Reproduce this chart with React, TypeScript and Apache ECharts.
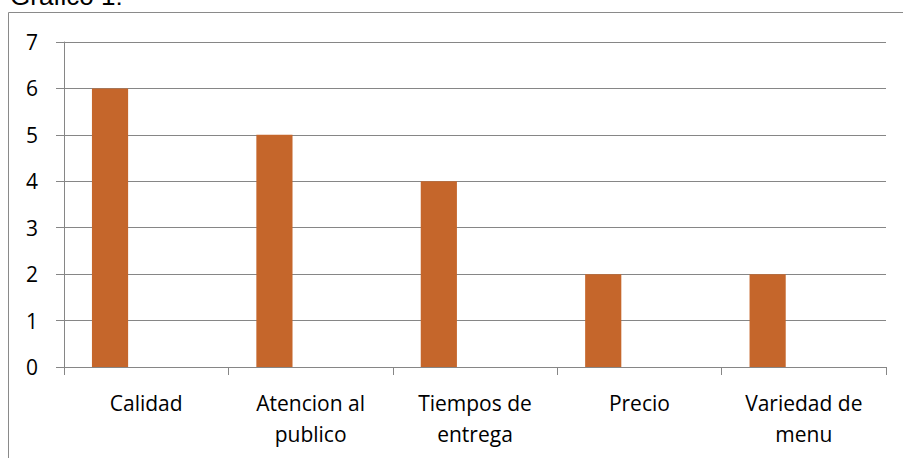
import React, { useEffect, useRef } from "react";
import * as echarts from "echarts";

const categories = ["Calidad", "Atencion al\npublico", "Tiempos de\nentrega", "Precio", "Variedad de\nmenu"];
const values = [6, 5, 4, 2, 2];
const emptySeriesA = [null, null, null, null, null];
const emptySeriesB = [null, null, null, null, null];
const yTicks = { min: 0, max: 7, interval: 1 };
const titleText = "Gráfico 1:";

export default function App() {
  const ref = useRef<HTMLDivElement>(null);
  useEffect(() => {
    const chart = echarts.init(ref.current!, null, { renderer: "svg" });
    const labelFont = "'Open Sans', 'Noto Sans', sans-serif";
    chart.setOption({
      animation: false,
      backgroundColor: "#ffffff",
      graphic: [
        {
          type: "rect",
          shape: { x: 8.5, y: 12.5, width: 920, height: 480 },
          style: { fill: "none", stroke: "#8a8a8a", lineWidth: 1 },
          silent: true,
        },
        {
          type: "text",
          x: 10,
          y: -4,
          style: {
            text: titleText,
            font: "26px 'Liberation Sans', Arial, sans-serif",
            fill: "#000",
            verticalAlign: "middle",
          },
        },
      ],
      grid: { left: 64, right: 17, top: 42, bottom: 91, containLabel: false },
      xAxis: {
        type: "category",
        data: categories,
        axisLine: { show: true, lineStyle: { color: "#868686", width: 1 } },
        axisTick: { show: true, length: 8, lineStyle: { color: "#868686" } },
        axisLabel: {
          interval: 0,
          color: "#000",
          fontSize: 21,
          fontFamily: labelFont,
          lineHeight: 31,
          margin: 20,
          verticalAlign: "top",
        },
      },
      yAxis: {
        type: "value",
        min: yTicks.min,
        max: yTicks.max,
        interval: yTicks.interval,
        axisLine: { show: true, lineStyle: { color: "#868686", width: 1 } },
        axisTick: { show: true, length: 8, lineStyle: { color: "#868686" } },
        axisLabel: { color: "#000", fontSize: 21, fontFamily: labelFont, margin: 26 },
        splitLine: { show: true, lineStyle: { color: "#868686", width: 1 } },
      },
      series: [
        { type: "bar", data: values, itemStyle: { color: "#C5662B" }, barGap: "0%", barCategoryGap: "34%" },
        { type: "bar", data: emptySeriesA, itemStyle: { color: "#C5662B" } },
        { type: "bar", data: emptySeriesB, itemStyle: { color: "#C5662B" } },
      ],
    });
    return () => chart.dispose();
  }, []);
  return (
    <div
      ref={ref}
      style={{ position: "fixed", left: 0, top: 0, width: 903, height: 458 }}
    />
  );
}
